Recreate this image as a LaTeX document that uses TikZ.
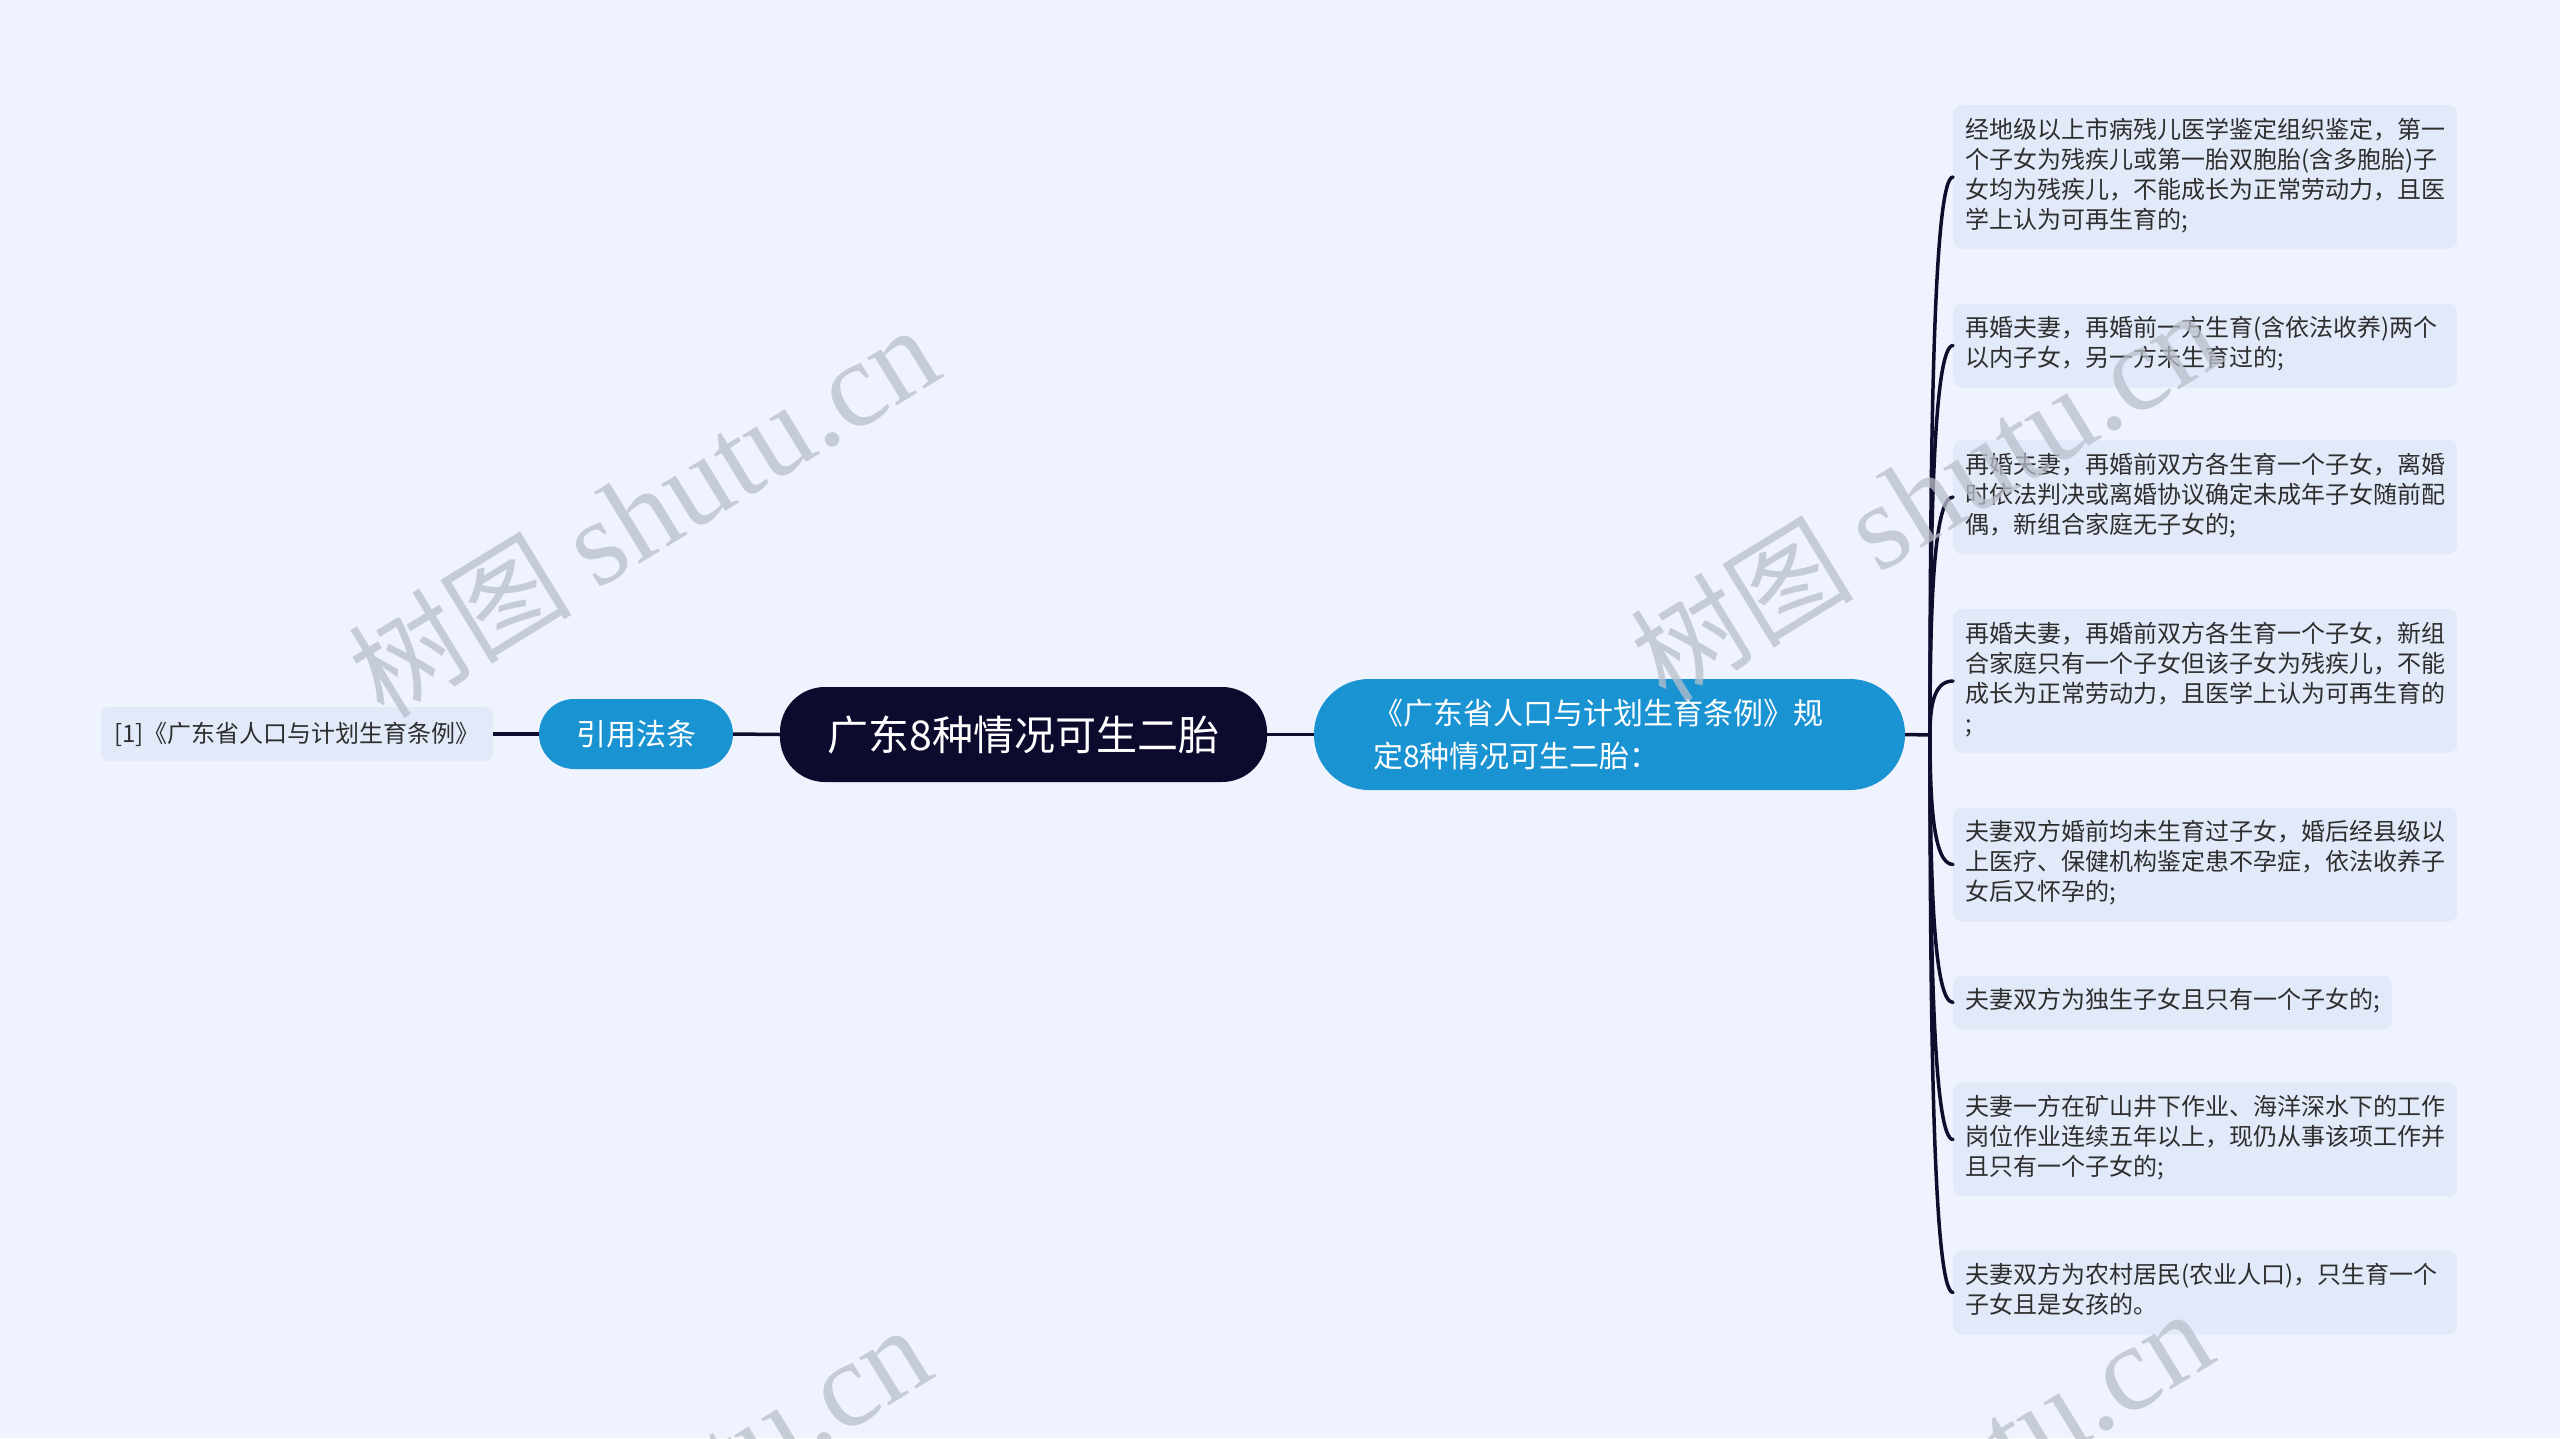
\documentclass[tikz,border=0pt]{standalone}
\usepackage{fontspec}
\setmainfont{Noto Sans CJK SC}
\newfontfamily\wmlat{Liberation Serif}
\usetikzlibrary{calc}
\definecolor{bgc}{HTML}{EEF3FD}
\definecolor{leafc}{HTML}{E2EAFA}
\definecolor{bluec}{HTML}{1A93D3}
\definecolor{darkc}{HTML}{0D0B2D}
\definecolor{linec}{HTML}{0F0D2E}
\definecolor{txtc}{HTML}{2E2E2E}
\definecolor{wmc}{HTML}{B9BFCA}
\tikzset{
  leaf/.style={fill=leafc, rounded corners=9pt, align=left, text width=480pt,
    inner xsep=12pt, inner ysep=12pt, anchor=west, text=txtc,
    font=\fontsize{24}{30}\selectfont,
    execute at begin node=\strut, execute at end node=\strut},
  conn/.style={draw=linec, line width=3.5pt},
  wm/.style={text=wmc, text opacity=0.75, rotate=31.5, inner sep=0pt},
}
\begin{document}
\begin{tikzpicture}[x=1pt, y=-1pt]
\useasboundingbox (0,0) rectangle (2560,1438);
\fill[bgc] (0,0) rectangle (2560,1438);

% main nodes
\node[fill=darkc, text=white, rounded corners=45pt, minimum width=487pt, minimum height=95pt,
      font=\fontsize{41}{48}\selectfont] (C) at (1023.5,734.5) {广东8种情况可生二胎};
\node[fill=bluec, text=white, rounded corners=55pt, minimum width=591pt, minimum height=111pt,
      text width=473pt, inner xsep=59pt, align=left, font=\fontsize{30}{43}\selectfont]
      (R) at (1609.5,734.5) {《广东省人口与计划生育条例》规\\定8种情况可生二胎：};
\node[fill=bluec, text=white, rounded corners=35pt, minimum width=194pt, minimum height=70pt,
      font=\fontsize{30}{36}\selectfont] (Y) at (636,734) {引用法条};
\node[fill=leafc, text=txtc, rounded corners=8pt, minimum width=392pt, minimum height=54pt,
      font=\fontsize{24}{30}\selectfont] (F) at (297,734) {[1]《广东省人口与计划生育条例》};

% leaves
\node[leaf] (L1) at (1953,177) {经地级以上市病残儿医学鉴定组织鉴定，第一\\个子女为残疾儿或第一胎双胞胎(含多胞胎)子\\女均为残疾儿，不能成长为正常劳动力，且医\\学上认为可再生育的;};
\node[leaf] (L2) at (1953,345.5) {再婚夫妻，再婚前一方生育(含依法收养)两个\\以内子女，另一方未生育过的;};
\node[leaf] (L3) at (1953,497) {再婚夫妻，再婚前双方各生育一个子女，离婚\\时依法判决或离婚协议确定未成年子女随前配\\偶，新组合家庭无子女的;};
\node[leaf] (L4) at (1953,681) {再婚夫妻，再婚前双方各生育一个子女，新组\\合家庭只有一个子女但该子女为残疾儿，不能\\成长为正常劳动力，且医学上认为可再生育的\\;};
\node[leaf] (L5) at (1953,864.5) {夫妻双方婚前均未生育过子女，婚后经县级以\\上医疗、保健机构鉴定患不孕症，依法收养子\\女后又怀孕的;};
\node[leaf, text width=] (L6) at (1953,1002.5) {夫妻双方为独生子女且只有一个子女的;};
\node[leaf] (L7) at (1953,1139.5) {夫妻一方在矿山井下作业、海洋深水下的工作\\岗位作业连续五年以上，现仍从事该项工作并\\且只有一个子女的;};
\node[leaf] (L8) at (1953,1292.5) {夫妻双方为农村居民(农业人口)，只生育一个\\子女且是女孩的。};

% connectors
\coordinate (hub) at (1930,735);
\draw[conn] (F.east) -- (Y.west);
\draw[conn] (Y.east) -- (C.west);
\draw[conn] (C.east) -- (R.west);
\draw[conn] (R.east) -- (hub);
\foreach \n in {L1,L2,L3,L4,L5,L6,L7,L8}{
  \draw[conn, line cap=round] (hub) .. controls ($(hub)!0.5!(hub|-\n.west)$) and ([xshift=3pt]hub|-\n.west) .. (\n.west);
}

% watermarks
\begin{scope}
\clip (0,0) rectangle (2560,1438);
\node[wm] (W1) at (643,512) {\fontsize{112}{118}\selectfont 树图 \wmlat\fontsize{122}{128}\selectfont shutu.cn};
\node[wm] (W2) at (1925,496) {\fontsize{112}{118}\selectfont 树图 \wmlat\fontsize{122}{128}\selectfont shutu.cn};
\node[wm] (W3) at (635,1512) {\fontsize{112}{118}\selectfont 树图 \wmlat\fontsize{122}{128}\selectfont shutu.cn};
\node[wm] (W4) at (1917,1496) {\fontsize{112}{118}\selectfont 树图 \wmlat\fontsize{122}{128}\selectfont shutu.cn};
\end{scope}
\end{tikzpicture}
\end{document}
